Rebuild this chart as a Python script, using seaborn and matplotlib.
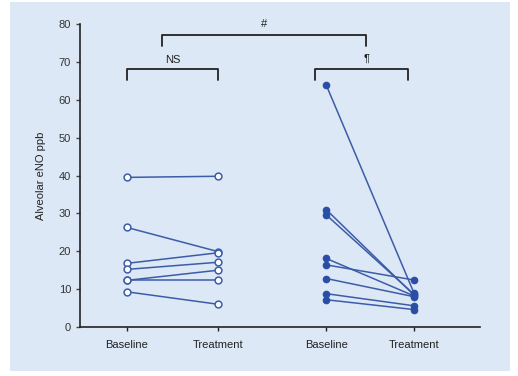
import matplotlib.pyplot as plt
import matplotlib.patches as mpatches
import seaborn as sns
import pandas as pd

# data
groups      = ['Baseline', 'Treatment', 'Baseline', 'Treatment']
open_base   = [39.5, 26.3, 16.8, 15.2, 12.3, 12.3, 9.3]
open_treat  = [39.8, 19.9, 19.6, 17.1, 15.0, 12.3, 6.0]
fill_base   = [63.9, 31.0, 29.6, 18.1, 16.4, 12.8, 8.8, 7.2]
fill_treat  = [8.9, 8.4, 8.6, 8.2, 12.4, 8.0, 5.6, 4.6]

x_pos = [0, 1, 2.18, 3.14]
line_col = '#3d5ca8'
bg = '#dce8f5'

rows = []
for i, (b, t) in enumerate(zip(open_base, open_treat)):
    rows.append(dict(subject=f'o{i}', x=x_pos[0], value=b, kind='open'))
    rows.append(dict(subject=f'o{i}', x=x_pos[1], value=t, kind='open'))
for i, (b, t) in enumerate(zip(fill_base, fill_treat)):
    rows.append(dict(subject=f'f{i}', x=x_pos[2], value=b, kind='filled'))
    rows.append(dict(subject=f'f{i}', x=x_pos[3], value=t, kind='filled'))
df = pd.DataFrame(rows)

sns.set_style('ticks')
plt.rcParams['font.family'] = ['Liberation Sans', 'DejaVu Sans']

fig = plt.figure(figsize=(5.18, 3.76), dpi=100)
fig.patch.set_facecolor('white')
fig.add_artist(mpatches.Rectangle((10/518, 1-371/376), 500/518, 369/376,
                                  transform=fig.transFigure, facecolor=bg,
                                  edgecolor='none', zorder=-10))
ax = fig.add_axes([80/518, 1-327/376, 400/518, 303/376])
ax.set_facecolor(bg)

# lines connecting paired values
sns.lineplot(data=df, x='x', y='value', units='subject', estimator=None,
             color=line_col, lw=1.1, ax=ax, legend=False, sort=False)
# markers
opn = df[df['kind'] == 'open']
fil = df[df['kind'] == 'filled']
ax.scatter(opn['x'], opn['value'], s=24, facecolor='white', edgecolor=line_col,
           linewidth=1.1, zorder=3)
ax.scatter(fil['x'], fil['value'], s=22, facecolor='#2a4ea6', edgecolor='#2a4ea6',
           linewidth=0.8, zorder=3)

ax.set_xlim(-0.51, 3.86)
ax.set_ylim(0, 80)
ax.set_yticks(range(0, 81, 10))
ax.set_xticks(x_pos)
ax.set_xticklabels(groups)
ax.tick_params(axis='both', labelsize=8, colors='#222222', length=3, width=1)
ax.tick_params(axis='y', colors='#444444', labelcolor='#333333')
ax.tick_params(axis='x', pad=6)
ax.set_xlabel('')
ax.set_ylabel('Alveolar eNO ppb', fontsize=8, color='#222222', labelpad=9)
sns.despine(ax=ax)
for s in ['left', 'bottom']:
    ax.spines[s].set_linewidth(1.2)
    ax.spines[s].set_color('#222222')


def bracket(x0, x1, y, drop, label, lx, ly):
    ax.plot([x0, x0, x1, x1], [y - drop, y, y, y - drop], color='#222222',
            lw=1.3, clip_on=False)
    ax.text(lx, ly, label, ha='center', va='center', fontsize=8, color='#222222')


bracket(0, 1, 68.2, 2.9, 'NS', 0.5, 70.6)
bracket(2.06, 3.07, 68.2, 2.9, '¶', 2.62, 70.8)
bracket(0.39, 2.62, 77.2, 3.1, '#', 1.5, 80.0)

plt.savefig('out.png', dpi=100, facecolor=fig.get_facecolor())
